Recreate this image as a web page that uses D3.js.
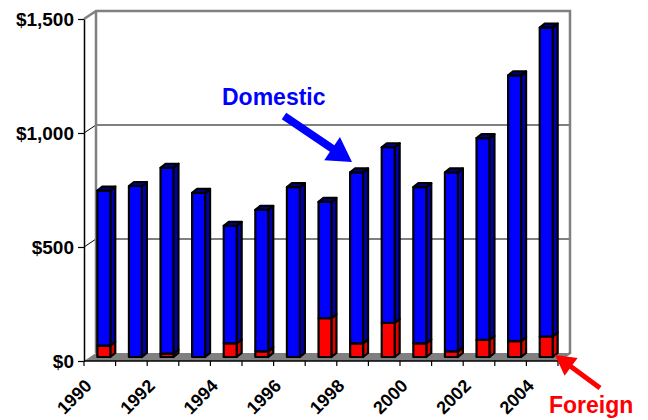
<!DOCTYPE html>
<html>
<head>
<meta charset="utf-8">
<script src="https://cdn.jsdelivr.net/npm/d3@7"></script>
<style>
  html, body { margin: 0; padding: 0; background: #fff; }
  svg { display: block; font-family: "Liberation Sans", Arial, sans-serif; }
</style>
</head>
<body>
<svg id="chart" width="648" height="420"></svg>
<script>
// Annual values, stacked: foreign at the bottom, domestic on top
const years = ["1990","1991","1992","1993","1994","1995","1996","1997","1998","1999","2000","2001","2002","2003","2004"];
const foreign  = [50, 0, 15, 0, 60, 25, 0, 170, 60, 150, 60, 25, 75, 70, 90];
const domestic = [680, 750, 815, 720, 515, 620, 745, 510, 750, 770, 685, 785, 885, 1165, 1355];
const yTicks = [0, 500, 1000, 1500];
const labelYears = years.filter((d, i) => i % 2 === 0);

const svg = d3.select("#chart");

// Plot frame (front plane) and depth of the 3D box
const plotL = 84, plotR = 558, plotB = 361, plotT = 19;
const depth = { dx: 12, dy: -8 };
const barDepth = { dx: 5, dy: -4 };
const barShift = { dx: 4, dy: -4 };

const x = d3.scaleBand().domain(years).range([plotL, plotR])
  .paddingInner(0.59).paddingOuter(0.295);
const y = d3.scaleLinear().domain([0, 1500]).range([plotB, plotT]);

// Back wall
const wallL = plotL + depth.dx, wallR = plotR + depth.dx;
const wallT = plotT + depth.dy, wallB = plotB + depth.dy;

// Floor
svg.append("polygon")
  .attr("points", [[plotL, plotB], [wallL, wallB], [wallR, wallB], [plotR, plotB]].join(" "))
  .attr("fill", "#808080");

// Gridlines on the wall with their depth connectors
yTicks.filter(v => v > 0 && v < 1500).forEach(v => {
  const yy = y(v);
  svg.append("line")
    .attr("x1", wallL).attr("x2", wallR)
    .attr("y1", yy + depth.dy).attr("y2", yy + depth.dy)
    .attr("stroke", "#000").attr("stroke-width", 1);
  svg.append("line")
    .attr("x1", plotL).attr("y1", yy)
    .attr("x2", wallL).attr("y2", yy + depth.dy)
    .attr("stroke", "#000").attr("stroke-width", 1);
});

// Wall border
svg.append("path")
  .attr("d", `M${plotL},${plotT} L${wallL},${wallT} L${wallR},${wallT} L${wallR},${wallB} L${plotR},${plotB}`
    + ` M${wallL},${wallT} L${wallL},${wallB}`)
  .attr("fill", "none").attr("stroke", "#808080").attr("stroke-width", 2.5)
  .attr("stroke-linejoin", "miter");

// 3D bar segment: front, side and optional top face
function box(g, x0, w, v0, v1, front, side, topFill, drawTop) {
  const yb = y(v0) + barShift.dy, yt = y(v1) + barShift.dy;
  const xl = x0 + barShift.dx, xr = xl + w;
  const add = (pts, fill) => g.append("polygon")
    .attr("points", pts.join(" ")).attr("fill", fill)
    .attr("stroke", "#000").attr("stroke-width", 2.2).attr("stroke-linejoin", "round");
  add([[xr, yt], [xr + barDepth.dx, yt + barDepth.dy], [xr + barDepth.dx, yb + barDepth.dy], [xr, yb]], side);
  add([[xl, yt], [xr, yt], [xr, yb], [xl, yb]], front);
  if (drawTop) {
    add([[xl, yt], [xl + barDepth.dx, yt + barDepth.dy], [xr + barDepth.dx, yt + barDepth.dy], [xr, yt]], topFill);
  }
}

const bars = svg.append("g");
years.forEach((yr, i) => {
  const g = bars.append("g");
  const f = foreign[i], d = domestic[i];
  if (f > 0) box(g, x(yr), x.bandwidth(), 0, f, "#ff0000", "#e00000", "#a00000", d === 0);
  if (d > 0) box(g, x(yr), x.bandwidth(), f, f + d, "#0000ff", "#0000b0", "#000080", true);
});

// Y axis
const yAxis = d3.axisLeft(y).tickValues(yTicks).tickFormat(d3.format("$,"))
  .tickSize(6).tickSizeOuter(0).tickPadding(4);
const gy = svg.append("g").attr("transform", `translate(${plotL},0)`).call(yAxis);
gy.select(".domain").attr("stroke", "#000").attr("stroke-width", 1.5);
gy.selectAll(".tick line").attr("stroke", "#000").attr("stroke-width", 1.2);
gy.selectAll(".tick text")
  .attr("font-family", "'Liberation Sans', Arial, sans-serif")
  .attr("font-size", 19).attr("font-weight", "bold").attr("fill", "#000");

// X axis: baseline, ticks at category boundaries, rotated labels
const step = x.step();
svg.append("line").attr("x1", plotL).attr("x2", plotR)
  .attr("y1", plotB).attr("y2", plotB)
  .attr("stroke", "#000").attr("stroke-width", 1.5);
svg.selectAll(".xtick").data(d3.range(years.length + 1)).enter().append("line")
  .attr("x1", i => plotL + i * step).attr("x2", i => plotL + i * step)
  .attr("y1", plotB).attr("y2", plotB + 5)
  .attr("stroke", "#000").attr("stroke-width", 1.2);

svg.selectAll(".xlabel").data(labelYears).enter().append("text")
  .attr("transform", d => `translate(${x(d) + x.bandwidth() / 2 - 7},${plotB + 26}) rotate(-45)`)
  .attr("text-anchor", "end")
  .attr("font-size", 18).attr("font-weight", "bold").attr("fill", "#000")
  .text(d => d);

// Callout arrows
function arrow(x1, y1, x2, y2, shaft, headL, headW) {
  const len = Math.hypot(x2 - x1, y2 - y1);
  const ux = (x2 - x1) / len, uy = (y2 - y1) / len;
  const px = -uy, py = ux;
  const bx = x2 - ux * headL, by = y2 - uy * headL;
  return [
    [x1 + px * shaft / 2, y1 + py * shaft / 2],
    [bx + px * shaft / 2, by + py * shaft / 2],
    [bx + px * headW / 2, by + py * headW / 2],
    [x2, y2],
    [bx - px * headW / 2, by - py * headW / 2],
    [bx - px * shaft / 2, by - py * shaft / 2],
    [x1 - px * shaft / 2, y1 - py * shaft / 2]
  ].map(p => p.join(",")).join(" ");
}

svg.append("polygon").attr("points", arrow(284, 116, 352, 162, 8, 24, 28)).attr("fill", "#0000ff");
svg.append("text").attr("x", 222).attr("y", 105)
  .attr("font-size", 23).attr("font-weight", "bold").attr("fill", "#0000ff")
  .text("Domestic");

svg.append("polygon").attr("points", arrow(600, 388, 555, 355, 5, 20, 22)).attr("fill", "#ff0000");
svg.append("text").attr("x", 549).attr("y", 413)
  .attr("font-size", 23).attr("font-weight", "bold").attr("fill", "#ff0000")
  .text("Foreign");
</script>
</body>
</html>
